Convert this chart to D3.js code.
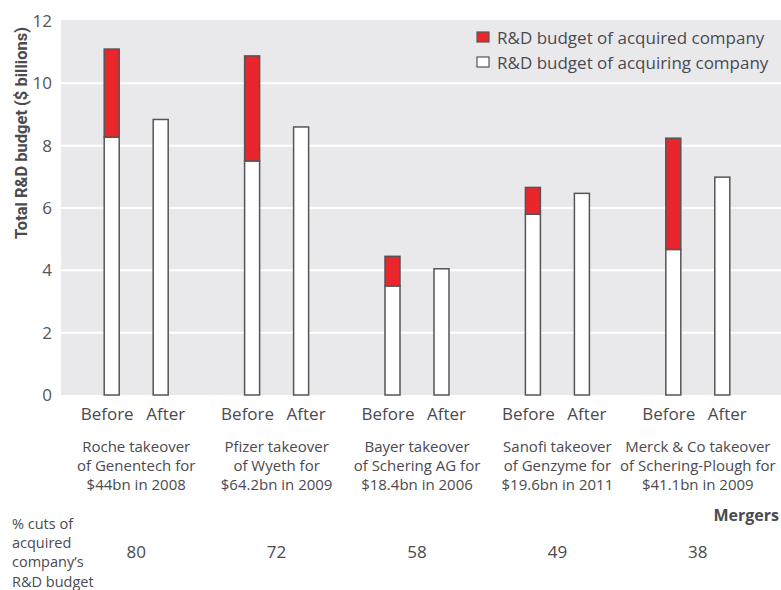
<!DOCTYPE html>
<html>
<head>
<meta charset="utf-8">
<script src="https://cdn.jsdelivr.net/npm/d3@7"></script>
<style>
  body { margin: 0; background: #fff; }
  text { font-family: "Open Sans", "Noto Sans", sans-serif; fill: #4a4a4f; }
</style>
</head>
<body>
<div id="vis"></div>
<script>
var width = 781, height = 590;
var margin = { top: 21, right: 0, bottom: 195, left: 61 };

// data
var mergers = ["Roche", "Pfizer", "Bayer", "Sanofi", "Merck"];
var mergerLabels = [
  ["Roche takeover", "of Genentech for", "$44bn in 2008"],
  ["Pfizer takeover", "of Wyeth for", "$64.2bn in 2009"],
  ["Bayer takeover", "of Schering AG for", "$18.4bn in 2006"],
  ["Sanofi takeover", "of Genzyme for", "$19.6bn in 2011"],
  ["Merck & Co takeover", "of Schering-Plough for", "$41.1bn in 2009"]
];
var acquiringBefore = [8.27, 7.51, 3.5, 5.8, 4.67];
var acquiredBefore = [2.83, 3.37, 0.95, 0.86, 3.57];
var after = [8.84, 8.6, 4.05, 6.47, 6.99];
var cuts = [80, 72, 58, 49, 38];
var periods = ["Before", "After"];
var yTicks = [0, 2, 4, 6, 8, 10, 12];

var red = "#e8262b", stroke = "#555", grey = "#e9e9ec";

var svg = d3.select("#vis").append("svg")
  .attr("width", width)
  .attr("height", height);

var y = d3.scaleLinear().domain([0, 12]).range([395, 21]);
var x = d3.scaleBand().domain(mergers).range([66, 768]);
// before / after slots inside each merger group
var xSub = d3.scaleBand().domain(periods).range([x.bandwidth() / 2 - 49, x.bandwidth() / 2 + 49]);
var labelShift = { Before: -4.5, After: 5 };

// plot background
svg.append("rect")
  .attr("x", margin.left)
  .attr("y", y(12) - 1)
  .attr("width", width - margin.left)
  .attr("height", y(0) - y(12) + 1)
  .style("fill", grey);

svg.append("g")
  .selectAll("line")
  .data(yTicks.slice(1, 6))
  .enter()
  .append("line")
  .attr("x1", margin.left)
  .attr("x2", width)
  .attr("y1", d => y(d))
  .attr("y2", d => y(d))
  .style("stroke", "#fff")
  .attr("stroke-width", 2);

// y axis labels
var yAxis = d3.axisLeft(y).tickValues(yTicks).tickSize(0).tickPadding(7);
var gy = svg.append("g")
  .attr("transform", "translate(" + (margin.left - 2) + ",0)")
  .call(yAxis);
gy.select(".domain").remove();
gy.selectAll("text")
  .attr("font-size", "17px")
  .style("font-family", "'Open Sans', sans-serif")
  .style("fill", "#55555a");

svg.append("text")
  .attr("transform", "translate(27,133) rotate(-90)")
  .style("text-anchor", "middle")
  .style("font-family", "Roboto, sans-serif")
  .attr("font-size", "16.5px")
  .style("font-weight", "bold")
  .text("Total R&D budget ($ billions)");

// bars
var groups = svg.append("g")
  .selectAll(".merger")
  .data(mergers)
  .enter()
  .append("g")
  .attr("class", "merger")
  .attr("transform", d => "translate(" + x(d) + ",0)");

var bw = 15;
groups.append("rect")
  .attr("x", d => xSub("Before") + xSub.bandwidth() / 2 - bw / 2)
  .attr("y", (d, i) => y(acquiringBefore[i]))
  .attr("width", bw)
  .attr("height", (d, i) => y(0) - y(acquiringBefore[i]))
  .style("fill", "#fff")
  .style("stroke", stroke)
  .attr("stroke-width", 1.5);

groups.append("rect")
  .attr("x", d => xSub("Before") + xSub.bandwidth() / 2 - bw / 2)
  .attr("y", (d, i) => y(acquiringBefore[i] + acquiredBefore[i]))
  .attr("width", bw)
  .attr("height", (d, i) => y(acquiringBefore[i]) - y(acquiringBefore[i] + acquiredBefore[i]))
  .style("fill", red)
  .style("stroke", stroke)
  .attr("stroke-width", 1.5);

groups.append("rect")
  .attr("x", d => xSub("After") + xSub.bandwidth() / 2 - bw / 2)
  .attr("y", (d, i) => y(after[i]))
  .attr("width", bw)
  .attr("height", (d, i) => y(0) - y(after[i]))
  .style("fill", "#fff")
  .style("stroke", stroke)
  .attr("stroke-width", 1.5);

// Before / After labels
groups.selectAll(".period")
  .data(periods)
  .enter()
  .append("text")
  .attr("class", "period")
  .attr("x", d => xSub(d) + xSub.bandwidth() / 2 + labelShift[d])
  .attr("y", 420)
  .style("text-anchor", "middle")
  .attr("font-size", "17px")
  .text(d => d);

// merger descriptions
groups.each(function(d, i) {
  d3.select(this).selectAll(".desc")
    .data(mergerLabels[i])
    .enter()
    .append("text")
    .attr("class", "desc")
    .attr("x", x.bandwidth() / 2)
    .attr("y", (t, j) => 452 + j * 19)
    .style("text-anchor", "middle")
    .attr("font-size", "15px")
    .text(t => t);
});

// cut percentages
groups.append("text")
  .attr("x", x.bandwidth() / 2)
  .attr("y", 558)
  .style("text-anchor", "middle")
  .attr("font-size", "17px")
  .text((d, i) => cuts[i]);

svg.append("text")
  .attr("x", 779)
  .attr("y", 521)
  .style("text-anchor", "end")
  .attr("font-size", "16px")
  .style("font-weight", "bold")
  .text("Mergers");

var cutLines = ["% cuts of", "acquired", "company\u2019s", "R&D budget"];
svg.append("g")
  .selectAll("text")
  .data(cutLines)
  .enter()
  .append("text")
  .attr("x", 12)
  .attr("y", (d, i) => 529 + i * 19.2)
  .attr("font-size", "14.5px")
  .text(d => d);

// legend
var legendItems = [
  { label: "R&D budget of acquired company", color: red },
  { label: "R&D budget of acquiring company", color: "#fff" }
];
var legend = svg.append("g")
  .selectAll(".legend")
  .data(legendItems)
  .enter()
  .append("g")
  .attr("class", "legend")
  .attr("transform", (d, i) => "translate(477," + (32 + i * 25) + ")");
legend.append("rect")
  .attr("width", 12)
  .attr("height", 10)
  .style("fill", d => d.color)
  .style("stroke", stroke)
  .attr("stroke-width", 1.2);
legend.append("text")
  .attr("x", 20)
  .attr("y", 12)
  .attr("font-size", "17px")
  .text(d => d.label);
</script>
</body>
</html>
